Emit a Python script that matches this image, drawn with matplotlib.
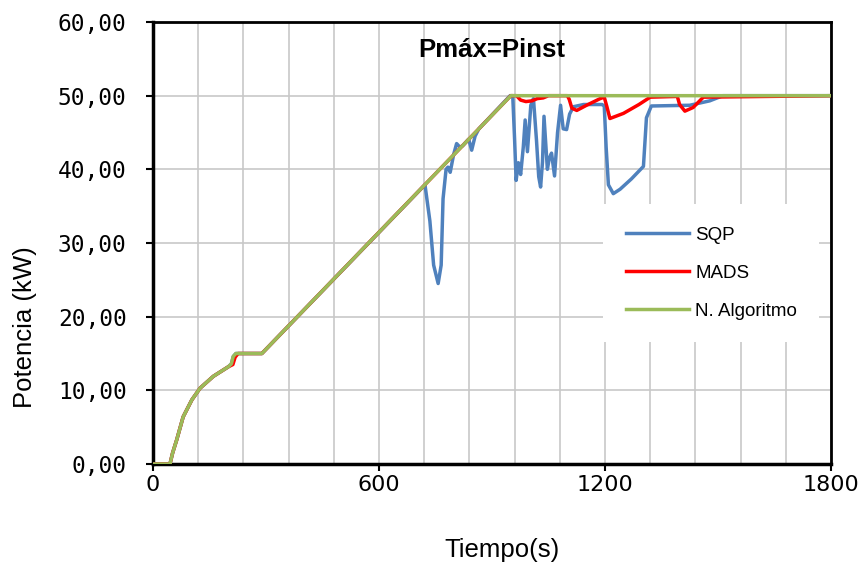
import matplotlib
matplotlib.use('Agg')
import matplotlib.pyplot as plt
import numpy as np

# Time axis (s) and power (kW) for each method
t_nalg = [0, 45, 52, 63, 80, 103, 125, 160, 200, 208, 213, 220, 230, 289, 950, 1800]
p_nalg = [0, 0, 1.5, 3.3, 6.4, 8.7, 10.3, 11.9, 13.2, 13.6, 14.6, 15.0, 15.0, 15.0, 50.0, 50.0]

t_mads = [0, 45, 52, 63, 80, 103, 125, 160, 200, 212, 218, 226, 289, 950, 965, 976, 990,
          1006, 1020, 1036, 1050, 1100, 1105, 1112, 1125, 1151, 1187, 1198, 1205, 1213,
          1249, 1290, 1320, 1392, 1398, 1412, 1434, 1461, 1800]
p_mads = [0, 0, 1.5, 3.3, 6.4, 8.7, 10.3, 11.9, 13.2, 13.5, 14.5, 15.0, 15.0, 50.0, 50.0, 49.4, 49.2,
          49.3, 49.6, 49.7, 50.0, 50.0, 49.5, 48.3, 48.0, 48.7, 49.6, 49.8, 48.5, 46.9,
          47.6, 48.8, 49.8, 49.9, 48.8, 47.9, 48.4, 49.8, 50.0]

t_sqp = [0, 45, 52, 63, 80, 103, 125, 160, 200, 208, 213, 220, 230, 289, 722, 735, 745, 757,
         765, 770, 778, 783, 789, 798, 806, 815, 822, 838, 846, 855, 865, 948, 955, 960,
         964, 970, 976, 983, 988, 994, 1003, 1010, 1018, 1024, 1029, 1034, 1038, 1047,
         1052, 1058, 1066, 1074, 1082, 1089, 1098, 1106, 1116, 1143, 1192, 1198, 1203,
         1209, 1222, 1240, 1270, 1302, 1310, 1323, 1425, 1478, 1513, 1800]
p_sqp = [0, 0, 1.5, 3.3, 6.4, 8.7, 10.3, 11.9, 13.2, 13.6, 14.6, 15.0, 15.0, 15.0, 37.9, 33.0, 27.0, 24.5,
         27.0, 36.0, 40.0, 40.3, 39.6, 42.0, 43.5, 43.0, 43.2, 44.1, 42.6, 44.5, 45.5, 50.0, 50.0, 44.0,
         38.5, 40.9, 39.3, 43.0, 46.7, 42.4, 48.7, 49.6, 44.0, 39.0, 37.6, 41.0, 47.2, 40.0,
         41.5, 42.2, 39.1, 45.0, 48.7, 45.5, 45.4, 47.5, 48.5, 48.8, 48.8, 48.6, 43.0,
         37.9, 36.7, 37.3, 38.7, 40.4, 47.0, 48.6, 48.7, 49.3, 50.0, 50.0]

y_ticks = [0, 10, 20, 30, 40, 50, 60]
x_ticks = [0, 600, 1200, 1800]

fig = plt.figure(figsize=(8.66, 5.66), dpi=100)
ax = fig.add_axes([0.1767, 0.1802, 0.7829, 0.7809])

ax.plot(t_sqp, p_sqp, color='#4f81bd', lw=2.5, label='SQP', zorder=3)
ax.plot(t_mads, p_mads, color='#ff0000', lw=2.5, label='MADS', zorder=4)
ax.plot(t_nalg, p_nalg, color='#9bbb59', lw=2.5, label='N. Algoritmo', zorder=5)

ax.set_xlim(0, 1800)
ax.set_ylim(0, 60)
ax.set_xticks(x_ticks)
ax.set_xticks(np.arange(0, 1801, 120), minor=True)
ax.set_yticks(y_ticks)
ax.set_yticklabels([f'{v:.2f}'.replace('.', ',') for v in y_ticks],
                   family='DejaVu Sans Mono', fontsize=16.5)
ax.set_xticklabels([str(v) for v in x_ticks], family='DejaVu Sans', fontsize=16)

ax.grid(True, which='both', color='#c8c8c8', lw=1.2, zorder=0)
ax.set_axisbelow(True)
ax.tick_params(axis='x', which='major', direction='out', length=5, width=1.5, pad=3)
ax.tick_params(axis='x', which='minor', length=0)
ax.tick_params(axis='y', direction='out', length=5, width=1.5, pad=14)

for side in ['left', 'bottom']:
    ax.spines[side].set_linewidth(2.5)
for side in ['top', 'right']:
    ax.spines[side].set_linewidth(2.0)

ax.set_xlabel('Tiempo(s)', family='Liberation Sans', fontsize=18.5)
ax.set_ylabel('Potencia (kW)', family='Liberation Sans', fontsize=18.5)
ax.xaxis.set_label_coords(0.515, -0.167)
ax.yaxis.set_label_coords(-0.171, 0.31)

ax.text(0.5, 0.937, 'Pmáx=Pinst', transform=ax.transAxes, ha='center', va='center',
        family='Liberation Sans', fontsize=18.5, fontweight='bold')

leg = ax.legend(loc='upper left', bbox_to_anchor=(0.664, 0.588), borderaxespad=0,
                prop={'family': 'Liberation Sans', 'size': 13.5}, frameon=True,
                fancybox=False, edgecolor='none', facecolor='white', framealpha=1,
                handlelength=3.4, handletextpad=0.3, labelspacing=1.12, borderpad=1.2)

fig.savefig('out.png', dpi=100)
